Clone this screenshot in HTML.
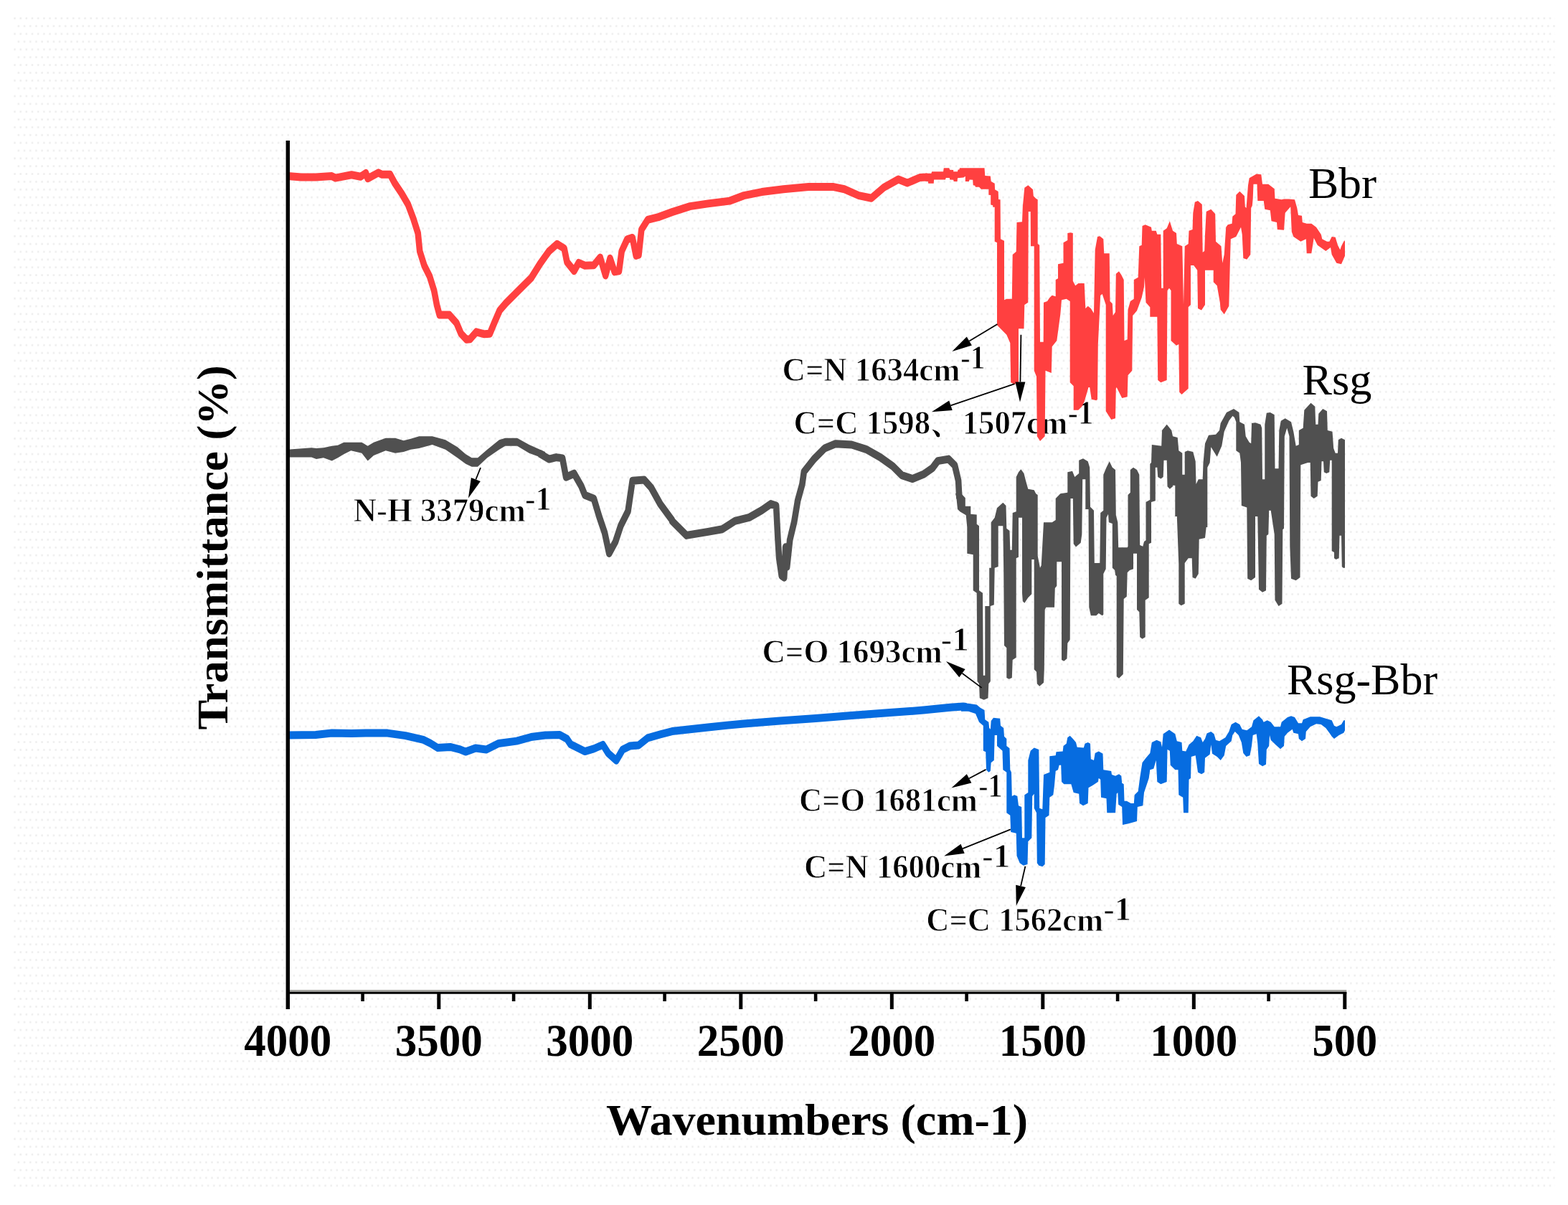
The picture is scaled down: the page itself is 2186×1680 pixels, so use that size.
<!DOCTYPE html>
<html lang="en"><head><meta charset="utf-8"><title>FTIR spectra</title>
<style>
html,body{margin:0;padding:0;background:#fff;}
body{width:2186px;height:1680px;overflow:hidden;}
svg{display:block;}
text{font-family:"Liberation Serif","Noto Serif CJK SC",serif;fill:#000;}
</style></head><body>
<svg width="2186" height="1680" viewBox="0 0 2186 1680">
<defs>
<pattern id="dots" x="19" y="24" width="8.17" height="21.7" patternUnits="userSpaceOnUse">
<rect x="0.3" y="0.3" width="2.5" height="2.5" fill="#ededed"/>
<rect x="5.7" y="11.15" width="2.5" height="2.5" fill="#ededed"/>
</pattern>
</defs>
<rect x="0" y="0" width="2186" height="1680" fill="#fff"/>
<rect x="19" y="24" width="2149" height="1632" fill="url(#dots)"/>

<text x="845" y="1581.5" font-size="62" font-weight="bold" textLength="588.1" lengthAdjust="spacingAndGlyphs">Wavenumbers (cm-1)</text>
<text transform="translate(316.5,1017.5) rotate(-90)" font-size="61" font-weight="bold" textLength="508.3" lengthAdjust="spacingAndGlyphs">Transmittance (%)</text>
<g id="labels" font-size="62">
<text x="1824" y="276" textLength="95.1" lengthAdjust="spacingAndGlyphs">Bbr</text>
<text x="1815.5" y="549.5" textLength="97" lengthAdjust="spacingAndGlyphs">Rsg</text>
<text x="1794" y="967.5" textLength="210.1" lengthAdjust="spacingAndGlyphs">Rsg-Bbr</text>
</g>
<g id="annotations" stroke="#fff" stroke-width="0.9">
<text x="1090.6" y="531" font-size="46" font-weight="bold" textLength="247.8" lengthAdjust="spacingAndGlyphs">C=N 1634cm</text><text x="1339" y="514.2" font-size="46" font-weight="bold" textLength="34.4" lengthAdjust="spacingAndGlyphs">-1</text>
<text x="1106.4" y="604.7" font-size="46" font-weight="bold" textLength="381.8" lengthAdjust="spacingAndGlyphs">C=C 1598、1507cm</text><text x="1488.4" y="591" font-size="46" font-weight="bold" textLength="36.1" lengthAdjust="spacingAndGlyphs">-1</text>
<text x="492.7" y="727.4" font-size="46" font-weight="bold" textLength="240" lengthAdjust="spacingAndGlyphs">N-H 3379cm</text><text x="731.9" y="711" font-size="46" font-weight="bold" textLength="36.6" lengthAdjust="spacingAndGlyphs">-1</text>
<text x="1062.4" y="923.6" font-size="46" font-weight="bold" textLength="251.4" lengthAdjust="spacingAndGlyphs">C=O 1693cm</text><text x="1311.4" y="906.8" font-size="46" font-weight="bold" textLength="39.5" lengthAdjust="spacingAndGlyphs">-1</text>
<text x="1114" y="1130.5" font-size="46" font-weight="bold" textLength="248.9" lengthAdjust="spacingAndGlyphs">C=O 1681cm</text><text x="1364.3" y="1111.3" font-size="46" font-weight="bold" textLength="33.3" lengthAdjust="spacingAndGlyphs">-1</text>
<text x="1120.9" y="1224.3" font-size="46" font-weight="bold" textLength="247.3" lengthAdjust="spacingAndGlyphs">C=N 1600cm</text><text x="1369" y="1209" font-size="46" font-weight="bold" textLength="39.5" lengthAdjust="spacingAndGlyphs">-1</text>
<text x="1291.3" y="1297.5" font-size="46" font-weight="bold" textLength="246.8" lengthAdjust="spacingAndGlyphs">C=C 1562cm</text><text x="1538.3" y="1283.3" font-size="46" font-weight="bold" textLength="38.9" lengthAdjust="spacingAndGlyphs">-1</text>
</g>
<g id="curves">
<polyline transform="scale(1,1.28)" points="401.3,191.88 420,193.05 440.1,193.05 462.6,191.88 467.6,193.83 490.1,190.47 502.6,192.42 510.1,188.52 512.6,194.38 527.6,188.12 532.6,190.08 543.9,190.08 550.2,199.30 560.2,211.02 568.9,222.73 576.4,238.36 582.7,253.98 585.2,273.59 591.5,289.22 599,300.94 605.2,316.56 609,332.19 612.7,342.97 626.5,342.97 636.5,351.80 642.8,363.52 650.3,369.77 655.3,369.38 664,361.56 675.3,363.91 682.8,363.52 689,351.80 696.6,338.12 705.3,330.23 722.8,316.56 740.4,302.89 752.9,287.27 765.4,273.59 776.6,265.78 786.6,270.62 790.4,285.31 800.4,295.08 806.7,286.25 815.4,289.22 827.9,288.83 836.7,280.39 844.2,300.00 850.5,281.41 856.7,296.02 863,295.08 866.7,273.59 874.2,260.86 881.7,258.91 886.7,278.44 890.5,277.50 894.3,250.08 903,239.37 918,236.41 937,230.94 962,224.69 987.1,221.80 1017.1,218.83 1037.1,212.97 1062.1,209.06 1092.2,206.09 1127.2,203.59 1162.2,203.59 1177.2,206.09 1197.3,212.97 1214.8,215.86 1232.3,204.14 1252.3,195.39 1264.8,199.30 1282.3,193.44 1293,192.97" fill="none" stroke="#ff4040" stroke-width="8.6" stroke-linejoin="round" stroke-linecap="butt"/>
<polygon points="1290,241.7 1298.3,241.7 1299.2,239.2 1315,239.2 1315.8,234.2 1323.3,234.2 1324.2,236.7 1329.2,237.1 1329.2,239.2 1335,239.2 1335.4,236.7 1337.5,236.2 1337.9,234.2 1372.5,234.2 1373.3,245 1380.8,245.4 1381.7,252.9 1386.7,255.8 1387.1,264.2 1391.7,267.1 1392.1,277.9 1394.6,278.3 1395,333.3 1400,335.8 1400,418.3 1403.3,416.7 1410.8,416.7 1411.7,355 1416.7,350.8 1417.5,310 1425,309.2 1425.8,288.3 1428.3,261.7 1433.3,258.3 1440,264.2 1440.8,273.3 1444.2,276.7 1446.7,278.3 1446.7,340 1449.2,341.7 1450,476.7 1454.7,476.7 1455,421.7 1460,420 1463.3,415 1466.7,411.7 1471.7,413.3 1471.7,390 1475,388.3 1475,368.3 1482.5,366.7 1482.5,338.3 1488.3,335 1488.3,325 1492.5,324.2 1495.8,325 1495.8,391.7 1499.2,398.3 1503.3,395 1511.7,395 1513.3,430 1516.7,426.7 1520.8,430 1525,436.7 1526.7,348.3 1530,330 1533.3,329.2 1538.3,333.3 1539.2,353.3 1546.7,353.3 1547.5,420 1550.8,423.3 1551.7,440 1555,435 1555.8,381.7 1560,378.3 1563.3,383.3 1566.7,390 1567.5,475 1571.7,473.3 1572.5,431.7 1575.8,420 1580.8,416.7 1580.8,390 1586.7,386.7 1588.3,343.3 1591.7,341.7 1592.5,315 1596.7,313.3 1605,316.7 1605.8,321.7 1611.7,321.7 1613.3,326.7 1618.3,326.7 1619.2,401.7 1621.7,401.7 1621.7,321.7 1626.7,318.3 1630.8,308.3 1635,321.7 1640,325 1640.8,340 1648.3,343.3 1650,425 1651.7,343.3 1656.7,340 1657.5,321.7 1662.5,320 1663.3,296.7 1665.8,281.7 1670,280 1675.8,285 1676.7,351.7 1679.2,350 1680,326.7 1681.7,295 1688.3,291.7 1694.2,298.3 1695,336.7 1702.5,343.3 1704.2,366.7 1706.7,355 1709.2,316.7 1711.7,313.3 1717.5,311.7 1718.3,301.7 1722.5,298.3 1723.3,271.7 1728.3,266.7 1735,273.3 1735.8,288.3 1737.5,290 1740,258.3 1741.7,248.3 1751.7,242.5 1758.3,243.3 1760,256.7 1768.3,256.7 1776.7,263.3 1777.5,276.7 1786.7,278.3 1790,277.5 1796.7,277.5 1805,278.3 1808.3,290 1810,300 1815,300.8 1815.8,310 1821.7,311.7 1828.3,311.7 1835,316.7 1841.7,326.7 1843.3,333.3 1850,336.7 1853.3,336.7 1856.7,330 1861.7,330.8 1865,341.7 1868.3,348.3 1870,343.3 1874.2,335 1875,336.7 1875,356.7 1870,368.3 1863.3,366.7 1856.7,355 1855,345 1848.3,350 1836.7,341.7 1831.7,331.7 1828.3,353.3 1821.7,353.3 1820.8,333.3 1813.3,336.7 1803.3,330 1800.8,323.3 1799.2,288.3 1791.7,296.7 1790,320.8 1780.8,320 1780,310 1772.5,308.3 1770.8,293.3 1763.3,291.7 1761.7,280 1753.3,280 1752.5,256.7 1747.5,256.7 1746.7,276.7 1745.8,286.7 1744.2,290 1743.3,355 1738.3,361.7 1733.3,360 1731.7,326.7 1730,316.7 1723.3,330 1715.8,333.3 1715,360 1713.3,426.7 1713.3,426.7 1706.7,438.3 1701.7,431.7 1700.8,421.7 1696.7,398.3 1691.7,393.3 1691.7,376.7 1680,376.7 1680,425 1675,432.5 1670,430 1669.2,376.7 1664.2,370 1660,370 1660,425 1656.7,428.3 1656.7,541.7 1647.5,550 1644.2,546.7 1643.3,480 1640,481.7 1632.5,475 1632.5,405 1630,401.7 1627.5,405 1626.7,530 1618.3,533.3 1614.2,530 1613.3,441.7 1603.3,441.7 1603.3,428.3 1597.5,421.7 1595.8,386.7 1595,400 1591.7,415 1585,433.3 1579.2,440 1578.3,516.7 1572.5,523.3 1571.7,553.3 1564.2,555 1556.7,540 1555.8,541.7 1555,583.3 1549.2,585 1541.7,573.3 1541.7,425 1536.7,410 1534.2,411.7 1530.8,480 1530,556.7 1528.3,558.3 1521.7,556.7 1519.2,540 1517.5,540 1511.7,560 1508.3,566.7 1503.3,571.7 1496.7,571.7 1496.7,538.3 1491.7,533.3 1491.7,420 1486.7,416.7 1480,418.3 1478.3,438.3 1473.3,475 1466.7,483.3 1465.8,520 1457.5,516.7 1456.7,608.3 1450,615 1445.8,608.3 1445,525 1441.7,516.7 1441.7,343.3 1437,343.3 1436.7,295 1433.8,295 1433.3,421.7 1428.3,425 1427.5,458.3 1420,458.3 1420,533.3 1414.2,535.8 1409.2,533.3 1408.3,478.3 1403.3,466.7 1390,453.3 1390,451.7 1390,338.3 1386.7,336.7 1386.7,288.8 1384.2,288.8 1384.2,286.2 1381.2,285.4 1381.2,272.1 1378.3,271.7 1378.3,263.8 1367.9,263.8 1365,260.8 1360,260.8 1359.2,258.8 1356.7,258.3 1356.2,250.8 1351.7,250.4 1350.8,252.9 1345.8,252.9 1345.8,245.8 1343.3,247.5 1335,248.3 1334.6,252.9 1329.6,252.9 1329.2,250.8 1324.2,250.4 1323.8,247.9 1318.8,247.9 1317.9,250.4 1302.1,250.4 1301.7,255.8 1294.2,255.8 1293.8,252.9 1290,252.5" fill="#ff4040"/>
<polygon points="401,626.7 434.3,624.2 441,625 451,624.2 462.7,621.7 471,620.8 479.3,616.7 489.3,616.7 504.3,616.7 512.7,621.7 521,616.7 537.7,610.8 551,610.8 562.7,614.2 572.7,611.7 584.3,608.3 602.7,608.3 621,613.3 637.7,623.3 649.3,633.3 657.7,638.3 666,638.3 679.3,626.7 696,613.3 704.3,610.8 721,610.8 737.7,620 760,630 760,640 737.7,631.7 721,621.7 704.3,621.7 696,626.7 679.3,638.3 666,650.8 657.7,650.8 649.3,646.7 637.7,638.3 621,626.7 602.7,620 584.3,625 572.7,626.7 562.7,630 551,631.7 537.7,628.3 521,635 512.7,642.5 504.3,631.7 489.3,628.3 479.3,633.3 471,638.3 462.7,642.5 451,638.3 441,640 434.3,637.5 401,637.5" fill="#505050"/>
<polyline transform="scale(1,1.28)" points="752,493.75 765.4,500.08 775.4,498.12 784.1,499.14 789.1,519.69 800.4,515.78 810.4,529.45 815.4,539.22 827.9,543.12 835.4,562.66 843,580.23 849.2,602.73 858,590.08 865.5,572.42 875.5,556.80 881.7,523.59 898,522.58 908,531.41 920.5,548.98 937,566.56 937,567.50 957,583.12 987.1,579.22 1007.1,576.33 1024.6,567.50 1044.6,563.59 1062.1,555.78 1074.6,548.91 1082.1,550.86 1084.4,586.09 1086.1,607.58 1089.7,627.11 1093.2,629.06 1095.2,595.86 1097.2,617.34 1101.2,588.05 1107.2,568.44 1112.2,545.00 1118.4,527.42 1120.9,513.75 1134.7,500.08 1149.7,488.28 1164.7,483.44 1187.3,484.38 1207.3,489.30 1227.3,498.12 1244.8,507.89 1257.3,517.66 1272.3,521.56 1287.4,516.64 1299.9,509.84 1307.4,502.03 1322.4,500.08 1331.1,506.87 1336.1,523.52 1337.4,543.05" fill="none" stroke="#505050" stroke-width="8.6" stroke-linejoin="round" stroke-linecap="butt"/>
<polygon points="1340,688 1345.8,694.2 1345.8,705.8 1353.3,705.8 1353.3,716.7 1361.7,717.5 1361.7,730.8 1365,733.3 1365,823.3 1370,826.7 1370.8,941.7 1373.3,941.7 1373.3,845 1379.2,845 1379.2,791.7 1381.7,791.7 1381.7,730 1381.7,728.3 1386.7,721.7 1390,708.3 1398.3,700.8 1402.5,705 1403.3,736.7 1407.5,740 1408.3,766.7 1410.8,766.7 1411.7,715 1416.7,713.3 1416.7,665 1420,658.3 1423.3,654.2 1427.5,660 1430,670 1433.3,681.7 1441.7,683.3 1444.2,688.3 1446.7,690 1446.7,775 1450,791.7 1451.7,788.3 1455,728.3 1466.7,728.3 1471.7,725 1471.7,695 1478.3,688.3 1488.3,686.7 1488.3,658.3 1495,656.7 1498.3,665 1504.2,660 1504.2,641.7 1510,639.2 1516.7,643.3 1519.2,651.7 1520,706.7 1523.3,710 1525,711.7 1525.8,785 1533.3,785 1534.2,715 1538.3,711.7 1538.3,661.7 1542.5,651.7 1546.7,643.3 1550.8,651.7 1555,655 1555.8,718.3 1558.3,728.3 1559.2,763.3 1571.7,763.3 1572.5,761.7 1572.5,690 1575.8,686.7 1575.8,655 1580,651.7 1585,655 1588.3,661.7 1589.2,760 1593.3,761.7 1595,755 1597.5,753.3 1597.5,700 1603.3,696.7 1603.3,646.7 1605,645 1605.8,620 1619.2,621.7 1620,600 1626.7,591.7 1633.3,600 1635,608.3 1641.7,610 1643.3,628.3 1648.3,631.7 1648.3,661.7 1651.7,661.7 1651.7,630 1655.8,628.3 1663.3,630 1666.7,643.3 1667.5,675 1670.8,668.3 1676.7,668.3 1677.5,645 1680,618.3 1685,606.7 1695,605.8 1700,600 1701.7,590 1710,575 1720,570 1727.5,575 1728.3,588.3 1735,591.7 1736.7,608.3 1741.7,616.7 1744.2,618.3 1745,590 1750,589.2 1757.5,591.7 1759.2,596.7 1760,668.3 1763.3,668.3 1763.3,591.7 1765.8,575.8 1770.8,575 1776.7,578.3 1777.5,653.3 1782.5,653.3 1783.3,600 1785.8,586.7 1791.7,583.3 1800,588.3 1803.3,601.7 1806.7,621.7 1810.8,620 1810.8,600 1816.7,596.7 1818.3,571.7 1827.5,561.7 1833.3,566.7 1834.2,591.7 1837.5,591.7 1838.3,576.7 1844.2,570 1850,573.3 1850.8,600 1857.5,601.7 1859.2,625 1861.7,631.7 1865,631.7 1865.8,613.3 1870,610.8 1875,613.3 1875,791.7 1872.5,791.7 1870.8,790 1870,746.7 1867.5,746.7 1866.7,778.3 1862.5,780 1860,778.3 1860,770 1856.7,768.3 1856.7,641.7 1854.2,641.7 1853.3,658.3 1849.2,660 1845.8,658.3 1845,643.3 1842.5,643.3 1841.7,670 1837.5,671.7 1836.7,691.7 1831.7,695 1827.5,691.7 1826.7,645 1823.3,645 1813.3,648.3 1812.5,805 1806.7,809.2 1800,806.7 1798.3,761.7 1797.5,608.3 1794.2,596.7 1790.8,608.3 1790,736.7 1788.3,738.3 1787.5,841.7 1782.5,845 1777.5,836.7 1776.7,745 1771.7,711.7 1769.2,711.7 1768.3,745 1765.8,746.7 1765,823.3 1760,825.8 1755,821.7 1753.3,720 1750,720 1750,805 1744.2,809.2 1739.2,806.7 1738.3,707.5 1730.8,705 1730,645 1728.3,631.7 1723.3,628.3 1723.3,588.3 1720.8,581.7 1718.3,580 1713.3,586.7 1706.7,601.7 1703.3,621.7 1696.7,636.7 1688.3,623.3 1686.7,645 1683.3,651.7 1683.3,735 1681.7,735 1680,750 1671.7,751.7 1670.8,800 1666.7,806.7 1662.5,805 1661.7,778.3 1656.7,778.3 1651.7,785 1651.7,841.7 1646.7,844.2 1643.3,841.7 1643.3,786.7 1640.8,720 1638.3,720 1638.3,676.7 1635,676.7 1635,678.3 1630.8,681.7 1627.5,678.3 1626.7,641.7 1622.5,641.7 1621.7,665 1618.3,667.5 1614.2,665 1613.3,651.7 1610.8,651.7 1610.8,698.3 1605,700 1605,756.7 1601.7,758.3 1601.7,833.3 1596.7,836.7 1596.7,888.3 1592.5,890.8 1589.2,888.3 1588.3,853.3 1585,850 1585,771.7 1580,771.7 1580,793.3 1575,795 1571.7,798.3 1570.8,831.7 1566.7,835 1565.8,940 1560,945.8 1556.7,943.3 1556.7,803.3 1555,801.7 1554.2,795 1550.8,791.7 1550.8,730 1545.8,728.3 1545,716.7 1542.5,721.7 1541.7,793.3 1538.3,800 1538.3,856.7 1536.7,858.3 1531.7,855 1528.3,858.3 1520.8,858.3 1518.3,846.7 1517.5,710 1513.3,710 1513.3,668.3 1509.2,668.3 1508.3,745 1506.7,756.7 1500,762.5 1496.7,758.3 1495.8,695 1492.5,695 1491.7,891.7 1488.3,896.7 1487.5,918.3 1483.3,921.7 1480,920 1480,783.3 1473.3,783.3 1473.3,816.7 1470.8,820 1470,846.7 1458.3,846.7 1456.7,850 1455.8,933.3 1455,951.7 1449.2,956.7 1445.8,953.3 1445,936.7 1441.7,933.3 1441.7,780 1438.3,780 1438.3,828.3 1433.3,833.3 1428.3,840.8 1425.8,838.3 1425,826.7 1425,721.7 1420,721.7 1420,776.7 1416.7,778.3 1416.7,916.7 1411.7,920 1410.8,945 1406.7,946.7 1403.3,945 1403.3,903.3 1400,900 1399.2,795 1398.3,733.3 1391.7,733.3 1391.7,790 1386.7,791.7 1385.8,843.3 1380.8,845 1380.8,950 1378.3,953.3 1377.5,973.3 1371.7,975.8 1365.8,973.3 1365,953.3 1362.5,950 1361.7,826.7 1356.7,823.3 1356.7,773.3 1348.3,771.7 1348.3,770 1348.3,735 1346.7,718.3 1338.3,713.3 1335,710 1333.3,693.3 1332,688" fill="#505050"/>
<polyline transform="scale(1,1.28)" points="401.3,800.86 440.1,800.47 462.6,798.52 490.1,798.91 510.1,798.36 540.2,798.52 565.2,801.25 590.2,805.78 600.2,809.69 610.2,814.53 627.7,813.59 640.3,816.09 649,818.83 662.8,814.92 677.8,816.48 695.3,809.69 720.3,807.11 740.4,802.81 760.4,800.86 780.4,800.47 790.4,804.77 795.4,810.62 815.4,818.44 827.9,815.55 840.5,811.25 848,820.47 859.2,828.28 868,816.48 878,812.58 890.5,811.64 903,803.83 920.5,799.92 937,796.56 987.1,792.11 1037.1,788.20 1087.2,785.23 1137.2,782.34 1187.3,779.38 1237.3,776.41 1287.4,773.52 1324.9,770.55 1342.4,769.61 1347.4,770.00" fill="none" stroke="#066ce0" stroke-width="8.6" stroke-linejoin="round" stroke-linecap="butt"/>
<polygon points="1340,980 1350,980.8 1361.7,982.5 1366.7,986.7 1372.5,990 1373.3,1003.3 1378.3,1006.7 1379.2,1015 1380.8,1016.7 1381.7,1005 1385,1000.8 1394.2,1001.7 1395,1011.7 1399.2,1015 1400,1026.7 1403.3,1030 1403.3,1040 1407.5,1043.3 1408.3,1073.3 1410,1076.7 1410.8,1110 1414.2,1108.3 1418.3,1110 1420,1123.3 1424.2,1125 1425,1168.3 1428.3,1168.3 1428.3,1108.3 1433.3,1105 1433.3,1060 1436.7,1046.7 1441.7,1042.5 1448.3,1045 1449.2,1126.7 1453.3,1128.3 1455,1080 1463.3,1076.7 1463.3,1054.2 1471.7,1053.3 1472.5,1048.3 1481.7,1047.5 1482.5,1040 1486.7,1036.7 1488.3,1028.3 1491.7,1025.8 1495.8,1030 1500,1035 1501.7,1041.7 1510.8,1042.5 1512.5,1036.7 1516.7,1035 1520,1036.7 1520.8,1058.3 1525,1060 1526.7,1050 1531.7,1047.5 1537.5,1050.8 1538.3,1073.3 1549.2,1075 1550,1080 1555,1081.7 1560,1079.2 1563.3,1081.7 1564.2,1091.7 1566.7,1093.3 1567.5,1116.7 1570.8,1116.7 1576.7,1120 1580.8,1120 1581.7,1108.3 1586.7,1103.3 1589.2,1084.2 1592.5,1063.3 1597.5,1056.7 1603.3,1050 1605.8,1035 1612.5,1031.7 1618.3,1034.2 1620,1041.7 1621.7,1023.3 1630,1017.5 1638.3,1023.3 1640.8,1033.3 1647.5,1035 1648.3,1046.7 1653.3,1047.5 1657.5,1038.3 1663.3,1033.3 1668.3,1025.8 1674.2,1028.3 1676.7,1035 1680,1030 1682.5,1022.5 1688.3,1020 1692.5,1023.3 1695,1031.7 1700,1033.3 1708.3,1028.3 1713.3,1020 1716.7,1010 1722.5,1006.7 1728.3,1010 1731.7,1016.7 1738.3,1018.3 1745,1013.3 1747.5,1004.2 1755,998.3 1760,1003.3 1761.7,1006.7 1766.7,1004.2 1771.7,1006.7 1776.7,1013.3 1785,1013.3 1786.7,1006.7 1795,1000 1800,998.3 1805,1000 1810,1008.3 1815,1008.3 1816.7,1003.3 1826.7,999.2 1840,999.2 1848.3,1001.7 1856.7,1004.2 1860,1011.7 1863.3,1013.3 1870,1010 1873.3,1004.2 1875,1004.2 1875,1018.3 1873.3,1021.7 1866.7,1025 1860,1030 1856.7,1026.7 1853.3,1021.7 1848.3,1015 1841.7,1010 1835,1009.2 1826.7,1013.3 1820.8,1020 1820,1030 1815,1033.3 1810.8,1030 1810,1023.3 1803.3,1021.7 1801.7,1016.7 1795,1021.7 1790.8,1026.7 1790,1040 1785,1044.2 1778.3,1038.3 1771.7,1031.7 1770,1025 1769.2,1040 1765.8,1045 1765,1065.8 1760,1068.3 1755,1065 1753.3,1036.7 1751.7,1023.3 1746.7,1025 1745,1040 1742.5,1053.3 1737.5,1055 1733.3,1050 1730.8,1035 1726.7,1025 1721.7,1020 1718.3,1025 1716.7,1033.3 1709.2,1040 1706.7,1053.3 1701.7,1060 1696.7,1055 1690,1050.8 1688.3,1038.3 1686.7,1051.7 1680,1056.7 1679.2,1076.7 1675,1079.2 1670,1076.7 1666.7,1053.3 1660.8,1055 1660,1085 1657.5,1086.7 1656.7,1133.3 1650,1133.3 1649.2,1111.7 1643.3,1108.3 1642.5,1073.3 1638.3,1073.3 1631.7,1066.7 1630.8,1046.7 1627.5,1045 1626.7,1090 1618.3,1093.3 1613.3,1090 1611.7,1060 1608.3,1071.7 1603.3,1073.3 1601.7,1085 1595,1105 1593.3,1123.3 1585.8,1125 1585,1145 1573.3,1148.3 1565,1150 1564.2,1125 1559.2,1121.7 1558.3,1105 1556.7,1106.7 1555,1133.3 1543.3,1133.3 1542.5,1113.3 1535,1111.7 1534.2,1086.7 1531.7,1085 1530.8,1090 1523.3,1095 1517.5,1098.3 1516.7,1120 1510,1123.3 1505,1120 1504.2,1106.7 1496.7,1105 1493.3,1093.3 1483.3,1093.3 1480,1090 1479.2,1066.7 1476.7,1066.7 1475,1073.3 1471.7,1075 1470,1095 1468.3,1108.3 1463.3,1111.7 1462.5,1136.7 1457.5,1140 1456.7,1205 1453.3,1208.3 1448.3,1206.7 1445.8,1203.3 1445,1133.3 1441.7,1126.7 1441.7,1106.7 1439.2,1110 1438.3,1168.3 1433.3,1173.3 1432.5,1205 1426.7,1206.7 1421.7,1203.3 1417.5,1193.3 1416.7,1161.7 1409.2,1160 1408.3,1136.7 1403.3,1133.3 1403.3,1076.7 1398.3,1073.3 1397.5,1046.7 1390,1040 1390,1025 1386.7,1025 1385.8,1060 1381.7,1063.3 1380.8,1075 1378.3,1076.7 1375,1073.3 1374.2,1048.3 1370.8,1046.7 1370.8,1011.7 1365,1006.7 1360,995 1350,991.7 1340,991.7" fill="#066ce0"/>
</g>
<g id="axes" stroke="#000" fill="none">
<line x1="401.3" y1="196" x2="401.3" y2="1407" stroke-width="5.4"/>
<line x1="404" y1="1381.4" x2="1877.3" y2="1381.4" stroke="#a6a6a2" stroke-width="2.6"/>
<line x1="399" y1="1384.2" x2="1877.3" y2="1384.2" stroke-width="3"/>
<line x1="505.6" y1="1383" x2="505.6" y2="1396" stroke-width="4.6"/>
<line x1="611.8" y1="1383" x2="611.8" y2="1407" stroke-width="5"/>
<line x1="716.1" y1="1383" x2="716.1" y2="1396" stroke-width="4.6"/>
<line x1="822.3" y1="1383" x2="822.3" y2="1407" stroke-width="5"/>
<line x1="926.6" y1="1383" x2="926.6" y2="1396" stroke-width="4.6"/>
<line x1="1032.8" y1="1383" x2="1032.8" y2="1407" stroke-width="5"/>
<line x1="1137.1" y1="1383" x2="1137.1" y2="1396" stroke-width="4.6"/>
<line x1="1243.3" y1="1383" x2="1243.3" y2="1407" stroke-width="5"/>
<line x1="1347.6" y1="1383" x2="1347.6" y2="1396" stroke-width="4.6"/>
<line x1="1453.8" y1="1383" x2="1453.8" y2="1407" stroke-width="5"/>
<line x1="1558.1" y1="1383" x2="1558.1" y2="1396" stroke-width="4.6"/>
<line x1="1664.3" y1="1383" x2="1664.3" y2="1407" stroke-width="5"/>
<line x1="1768.6" y1="1383" x2="1768.6" y2="1396" stroke-width="4.6"/>
<line x1="1874.8" y1="1383" x2="1874.8" y2="1407" stroke-width="5"/>
</g>
<g id="ticklabels" font-size="64" font-weight="bold" text-anchor="middle">
<text x="401.3" y="1472.4" textLength="122" lengthAdjust="spacingAndGlyphs">4000</text>
<text x="611.8" y="1472.4" textLength="122" lengthAdjust="spacingAndGlyphs">3500</text>
<text x="822.3" y="1472.4" textLength="122" lengthAdjust="spacingAndGlyphs">3000</text>
<text x="1032.8" y="1472.4" textLength="122" lengthAdjust="spacingAndGlyphs">2500</text>
<text x="1243.3" y="1472.4" textLength="122" lengthAdjust="spacingAndGlyphs">2000</text>
<text x="1453.8" y="1472.4" textLength="122" lengthAdjust="spacingAndGlyphs">1500</text>
<text x="1664.3" y="1472.4" textLength="122" lengthAdjust="spacingAndGlyphs">1000</text>
<text x="1874.8" y="1472.4" textLength="90.5" lengthAdjust="spacingAndGlyphs">500</text>
</g>
<g id="arrows">
<line x1="1390.4" y1="452.1" x2="1351.3" y2="475.6" stroke="#000" stroke-width="1.8"/><polygon points="1327.3,490 1347.7,469.6 1354.9,481.6" fill="#000"/>
<line x1="1423.4" y1="466.8" x2="1422.4" y2="532.5" stroke="#000" stroke-width="1.8"/><polygon points="1422,560.5 1415.4,532.4 1429.4,532.6" fill="#000"/>
<line x1="1414.6" y1="535.2" x2="1325.4" y2="565.3" stroke="#000" stroke-width="1.8"/><polygon points="1298.9,574.2 1323.2,558.6 1327.7,571.9" fill="#000"/>
<line x1="670" y1="652" x2="663.4" y2="668.5" stroke="#000" stroke-width="1.8"/><polygon points="652.9,694.5 656.9,665.9 669.8,671.1" fill="#000"/>
<line x1="1368.6" y1="958.9" x2="1341.5" y2="938.7" stroke="#000" stroke-width="1.8"/><polygon points="1319,922 1345.6,933.1 1337.3,944.3" fill="#000"/>
<line x1="1374.5" y1="1072.9" x2="1351.1" y2="1085.3" stroke="#000" stroke-width="1.8"/><polygon points="1326.4,1098.5 1347.8,1079.2 1354.4,1091.5" fill="#000"/>
<line x1="1408.8" y1="1156.4" x2="1342.1" y2="1183.2" stroke="#000" stroke-width="1.8"/><polygon points="1316.1,1193.6 1339.5,1176.7 1344.7,1189.7" fill="#000"/>
<line x1="1429.4" y1="1207.8" x2="1423.1" y2="1235.4" stroke="#000" stroke-width="1.8"/><polygon points="1416.8,1262.7 1416.2,1233.8 1429.9,1237.0" fill="#000"/>
</g>
</svg></body></html>
